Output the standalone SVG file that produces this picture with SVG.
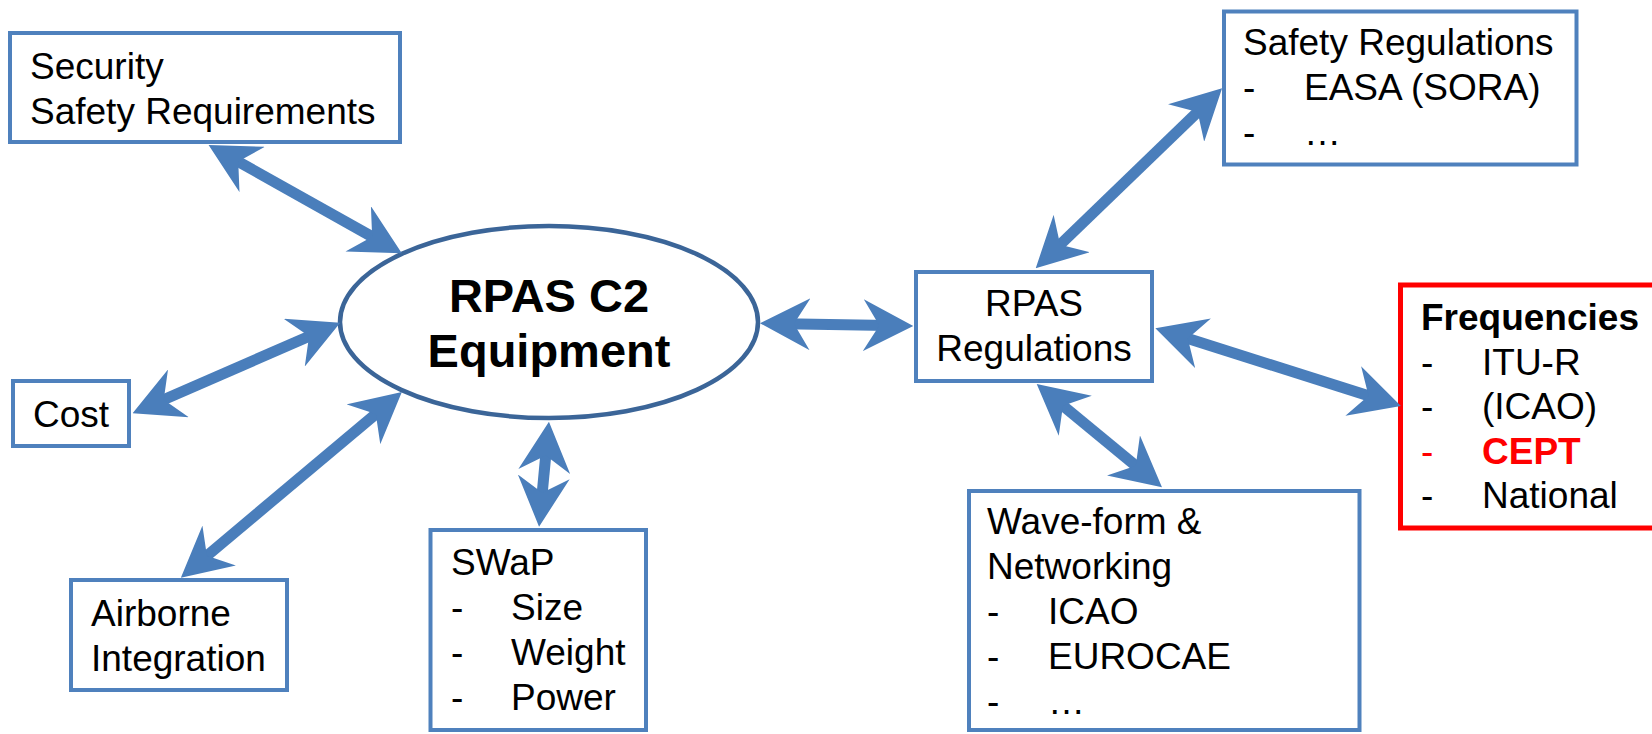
<svg xmlns="http://www.w3.org/2000/svg" width="1652" height="734" viewBox="0 0 1652 734">
  <style>
    .box { fill: #FFFFFF; stroke: #4F81BD; stroke-width: 4; }
    .hot { fill: #FFFFFF; stroke: #FF0000; stroke-width: 5; }
    .hub { fill: #FFFFFF; stroke: #3B6598; stroke-width: 4.5; }
    .t { font-family: "Liberation Sans", Arial, sans-serif; font-size: 37px; fill: #000000; }
    .b { font-weight: bold; }
    .red { fill: #FF0000; }
    .hubt { font-family: "Liberation Sans", Arial, sans-serif; font-size: 47px; font-weight: bold; fill: #000000; text-anchor: middle; }
    .mid { text-anchor: middle; }
    .link { fill: none; stroke: #4A7EBB; stroke-width: 11; marker-start: url(#stealth); marker-end: url(#stealth); }
  </style>
  <defs>
    <!-- stealth arrowhead: tip 25px beyond the line end -->
    <marker id="stealth" markerUnits="userSpaceOnUse" viewBox="0 0 50 52" markerWidth="50" markerHeight="52" refX="25" refY="26" orient="auto-start-reverse">
      <path d="M0,0 L50,26 L0,52 L16,26 Z" fill="#4A7EBB"/>
    </marker>
  </defs>
  <rect width="1652" height="734" fill="#FFFFFF"/>

  <g id="node-security">
    <rect class="box" x="10" y="33" width="390" height="109"/>
    <text class="t" x="30" y="79">Security</text>
    <text class="t" x="30" y="124">Safety Requirements</text>
  </g>

  <g id="node-cost">
    <rect class="box" x="13" y="381" width="116" height="65"/>
    <text class="t" x="33" y="427">Cost</text>
  </g>

  <g id="node-airborne">
    <rect class="box" x="71" y="580" width="216" height="110"/>
    <text class="t" x="91" y="626">Airborne</text>
    <text class="t" x="91" y="671">Integration</text>
  </g>

  <g id="node-swap">
    <rect class="box" x="430.5" y="530" width="215.5" height="200"/>
    <text class="t" x="451" y="575">SWaP</text>
    <text class="t" x="451" y="620">-</text><text class="t" x="511" y="620">Size</text>
    <text class="t" x="451" y="665">-</text><text class="t" x="511" y="665">Weight</text>
    <text class="t" x="451" y="710">-</text><text class="t" x="511" y="710">Power</text>
  </g>

  <g id="node-c2">
    <ellipse class="hub" cx="549" cy="322" rx="209" ry="96"/>
    <text class="hubt" x="549" y="312">RPAS C2</text>
    <text class="hubt" x="549" y="367">Equipment</text>
  </g>

  <g id="node-rpas-reg">
    <rect class="box" x="916" y="272" width="236" height="109"/>
    <text class="t mid" x="1034" y="316">RPAS</text>
    <text class="t mid" x="1034" y="361">Regulations</text>
  </g>

  <g id="node-safety-reg">
    <rect class="box" x="1224" y="11.5" width="352.5" height="153"/>
    <text class="t" x="1243" y="55">Safety Regulations</text>
    <text class="t" x="1243" y="100">-</text><text class="t" x="1304" y="100">EASA (SORA)</text>
    <text class="t" x="1243" y="145">-</text><text class="t" x="1304" y="145">…</text>
  </g>

  <g id="node-frequencies">
    <rect class="hot" x="1400.5" y="285" width="300" height="243"/>
    <text class="t b" x="1421" y="330">Frequencies</text>
    <text class="t" x="1421" y="374.5">-</text><text class="t" x="1482" y="374.5">ITU-R</text>
    <text class="t" x="1421" y="419">-</text><text class="t" x="1482" y="419">(ICAO)</text>
    <text class="t red" x="1421" y="463.5">-</text><text class="t b red" x="1482" y="463.5">CEPT</text>
    <text class="t" x="1421" y="508">-</text><text class="t" x="1482" y="508">National</text>
  </g>

  <g id="node-waveform">
    <rect class="box" x="969" y="491" width="390.5" height="239"/>
    <text class="t" x="987" y="534">Wave-form &amp;</text>
    <text class="t" x="987" y="579">Networking</text>
    <text class="t" x="987" y="624">-</text><text class="t" x="1048" y="624">ICAO</text>
    <text class="t" x="987" y="669">-</text><text class="t" x="1048" y="669">EUROCAE</text>
    <text class="t" x="987" y="714">-</text><text class="t" x="1048" y="714">…</text>
  </g>

  <g id="connectors">
    <path class="link" d="M230.4,157.2 L380,241.1"/>
    <path class="link" d="M155.5,403.3 L317.3,332.7"/>
    <path class="link" d="M200,561.6 L382.7,408.2"/>
    <path class="link" d="M546.6,446.6 L541.4,501.8"/>
    <path class="link" d="M785,323.7 L888.3,325.6"/>
    <path class="link" d="M1053.7,250.9 L1204.1,105.7"/>
    <path class="link" d="M1179.2,335.8 L1377.1,398.5"/>
    <path class="link" d="M1056,399.9 L1142.7,471.4"/>
  </g>
</svg>
